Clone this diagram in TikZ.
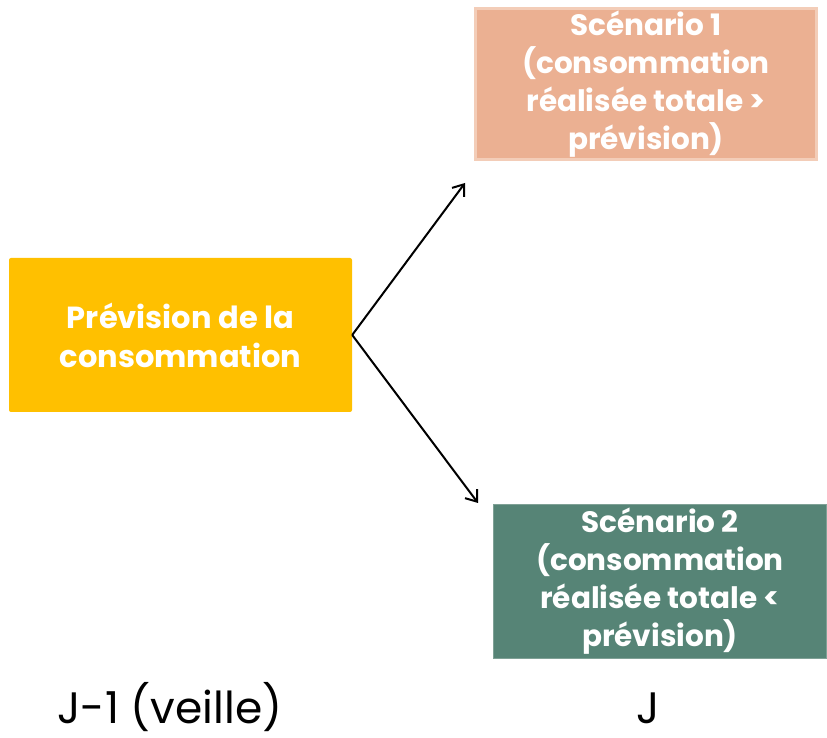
\documentclass[tikz,border=0pt]{standalone}
\usepackage{fontspec}
\setmainfont{Poppins}
\usepackage{xcolor}
\usetikzlibrary{arrows.meta, positioning}

\definecolor{prevYellow}{HTML}{FFC000}
\definecolor{scenSalmon}{HTML}{EBB092}
\definecolor{scenSalmonEdge}{HTML}{F3CDB8}
\definecolor{scenGreen}{HTML}{568476}
\definecolor{scenGreenEdge}{HTML}{7FA196}

\begin{document}
\begin{tikzpicture}[
    x=1pt, y=1pt,
    >={Straight Barb[length=10pt,width=15pt]},
    block/.style={fill=#1, text=white, align=center, inner sep=0pt,
        font=\bfseries\fontsize{29.5}{38}\selectfont},
    block/.default={prevYellow},
    day/.style={anchor=base, font=\fontsize{44}{50}\selectfont}
]
\useasboundingbox (0,0) rectangle (827,738);

% Forecast block
\node[block, rounded corners=2pt, minimum width=343pt, minimum height=154pt,
      font=\bfseries\fontsize{30.5}{39}\selectfont] (prev) at (180.5,403)
      {Prévision de la\\consommation};

% Scenarios
\node[block=scenSalmon, draw=scenSalmonEdge, line width=3pt,
      minimum width=341pt, minimum height=151pt] (sc1) at (646,654)
      {Scénario 1\\(consommation\\réalisée totale >\\prévision)};
\node[block=scenGreen, draw=scenGreenEdge, line width=1pt,
      minimum width=333pt, minimum height=154pt] (sc2) at (660,156.5)
      {Scénario 2\\(consommation\\réalisée totale <\\prévision)};

% Arrow ends
\coordinate (up) at (465,555);
\coordinate (down) at (478,235);
\draw[->, line width=2pt] (prev.east) -- (up);
\draw[->, line width=2pt] (prev.east) -- (down);

% Days
\node[day] (veille) at (170,14) {J-1 (veille)};
\node[day] (jour) at (648,14) {J};
\end{tikzpicture}
\end{document}
